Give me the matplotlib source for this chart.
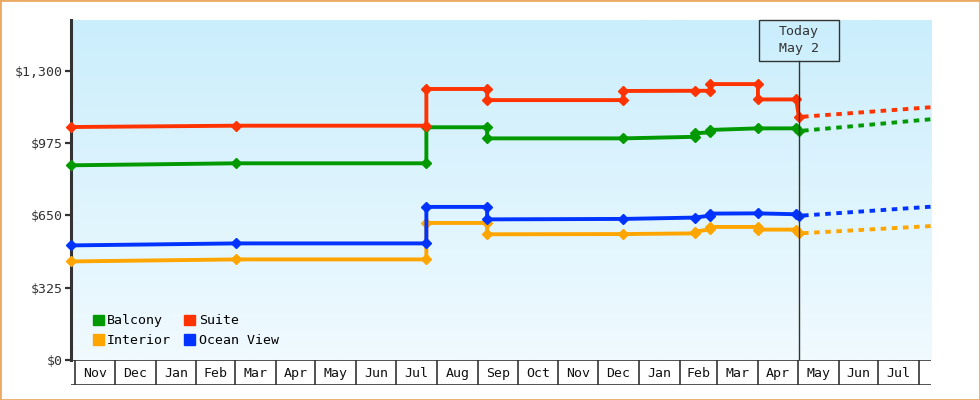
from datetime import datetime, timedelta
import numpy as np
import pandas as pd
import matplotlib
matplotlib.use('Agg')
import matplotlib.pyplot as plt
import matplotlib.transforms as mtransforms
from matplotlib.patches import Rectangle, Patch

plt.rcParams['font.family'] = 'DejaVu Sans Mono'
plt.rcParams['lines.scale_dashes'] = False

d = lambda s: datetime.strptime(s, '%Y-%m-%d')

x_start = d('2023-10-29')
x_end = d('2025-08-10')
today = d('2025-05-02')

# price history, one list of dates and one of prices per cabin type
balcony_dates = ['2023-10-29', '2024-03-02', '2024-07-24', '2024-07-24', '2024-09-08', '2024-09-08',
                 '2024-12-20', '2025-02-12', '2025-02-12', '2025-02-24', '2025-02-24', '2025-04-01',
                 '2025-04-30', '2025-05-02']
balcony_prices = [875, 884, 884, 1046, 1046, 996, 996, 1003, 1019, 1023, 1034, 1041, 1041, 1029]

suite_dates = ['2023-10-29', '2024-03-02', '2024-07-24', '2024-07-24', '2024-09-08', '2024-09-08',
               '2024-12-20', '2024-12-20', '2025-02-12', '2025-02-24', '2025-02-24', '2025-04-01',
               '2025-04-01', '2025-04-30', '2025-05-02']
suite_prices = [1047, 1053, 1053, 1218, 1218, 1168, 1168, 1209, 1210, 1210, 1240, 1240, 1171, 1171, 1092]

interior_dates = ['2023-10-29', '2024-03-02', '2024-07-24', '2024-07-24', '2024-09-08', '2024-09-08',
                  '2024-12-20', '2025-02-12', '2025-02-12', '2025-02-24', '2025-02-24', '2025-04-01',
                  '2025-04-01', '2025-04-30', '2025-05-02']
interior_prices = [443, 452, 452, 616, 616, 565, 566, 569, 577, 587, 598, 598, 586, 586, 569]

ocean_dates = ['2023-10-29', '2024-03-02', '2024-07-24', '2024-07-24', '2024-09-08', '2024-09-08',
               '2024-12-20', '2025-02-12', '2025-02-24', '2025-02-24', '2025-04-01', '2025-04-30',
               '2025-05-02']
ocean_prices = [515, 524, 524, 688, 688, 632, 634, 640, 649, 658, 659, 655, 648]

# projected prices after today
forecast_dates = ['2025-05-02', '2025-08-10']
balcony_forecast = [1029, 1082]
suite_forecast = [1092, 1136]
interior_forecast = [569, 602]
ocean_forecast = [648, 689]

yticks = [0, 325, 650, 975, 1300]
ytick_labels = ['$0', '$325', '$650', '$975', '$1,300']

series = [
    ('Balcony', balcony_dates, balcony_prices, balcony_forecast, '#009900'),
    ('Interior', interior_dates, interior_prices, interior_forecast, '#FFA500'),
    ('Suite', suite_dates, suite_prices, suite_forecast, '#FF3300'),
    ('Ocean View', ocean_dates, ocean_prices, ocean_forecast, '#0033FF'),
]

fig = plt.figure(figsize=(9.8, 4), dpi=100)
fig.patch.set_facecolor('white')
fig.patches.append(Rectangle((0, 0), 1, 1, transform=fig.transFigure, fill=False,
                             edgecolor='#EBAA64', linewidth=2))

ax = fig.add_axes([71 / 980, 40 / 400, 860 / 980, 340 / 400])
ax.set_xlim(x_start, x_end)
ax.set_ylim(0, 1528)

# sky gradient background
grad = np.linspace(0, 1, 256).reshape(256, 1, 1)
top = np.array([203, 238, 252]) / 255
bot = np.array([240, 250, 255]) / 255
img = top + (bot - top) * grad
ax.imshow(img, extent=[0, 1, 0, 1], transform=ax.transAxes, aspect='auto', zorder=0)

for name, dates, prices, fc, color in series:
    ax.plot([d(s) for s in dates], prices, color=color, lw=2.8, marker='D', ms=5.2,
            solid_joinstyle='round', clip_on=False, zorder=3)
    ax.plot([d(s) for s in forecast_dates], fc, color=color, lw=2.8,
            linestyle=(5, (4, 4)), zorder=3)

for sp in ['top', 'right', 'bottom']:
    ax.spines[sp].set_visible(False)
ax.spines['left'].set_linewidth(2.2)
ax.spines['left'].set_color('#333333')
ax.set_yticks(yticks)
ax.set_yticklabels(ytick_labels)
ax.tick_params(axis='y', length=4, width=1.6, color='#333333', pad=2,
               labelsize=9.5, labelcolor='#333333')
ax.set_xticks([])

# today marker
trans = mtransforms.blended_transform_factory(ax.transData, ax.transAxes)
box_h = 40.5 / 340
ax.plot([today, today], [0, 1 - box_h], color='#333333', lw=1, transform=trans, zorder=4)
ax.add_patch(Rectangle((today - timedelta(days=30.3), 1 - box_h), timedelta(days=60.6), box_h,
                       transform=trans, fill=False, edgecolor='#333333', lw=1, zorder=4,
                       clip_on=False))
ax.text(today, 1 - box_h / 2, 'Today\nMay 2', transform=trans, ha='center', va='center',
        fontsize=9.5, color='#333333', linespacing=1.4, zorder=5)

# legend
handles = [Patch(color=c, label=n) for n, _, _, _, c in series]
ax.legend(handles=handles, ncol=2, loc='lower left', bbox_to_anchor=(22 / 860, 13 / 340),
          frameon=False, fontsize=9.5, handlelength=0.83, handleheight=0.83,
          handletextpad=0.25, columnspacing=1.0, labelspacing=0.5, borderpad=0,
          borderaxespad=0)

# month strip under the chart
mx = fig.add_axes([71 / 980, 15 / 400, 860 / 980, 25 / 400])
mx.set_xlim(x_start, x_end)
mx.set_ylim(0, 1)
mx.axis('off')
mx.axhline(0, color='#333333', lw=1.2)
mx.axhline(1, color='#333333', lw=1.2)
months = pd.date_range('2023-11-01', '2025-08-01', freq='MS')
for i, m in enumerate(months):
    mx.axvline(m, color='#333333', lw=1.2)
    if i + 1 < len(months):
        mid = m + (months[i + 1] - m) / 2
        mx.text(mid, 0.45, m.strftime('%b'), ha='center', va='center', fontsize=9.5,
                color='#111111')

fig.savefig('out.png', dpi=100)
